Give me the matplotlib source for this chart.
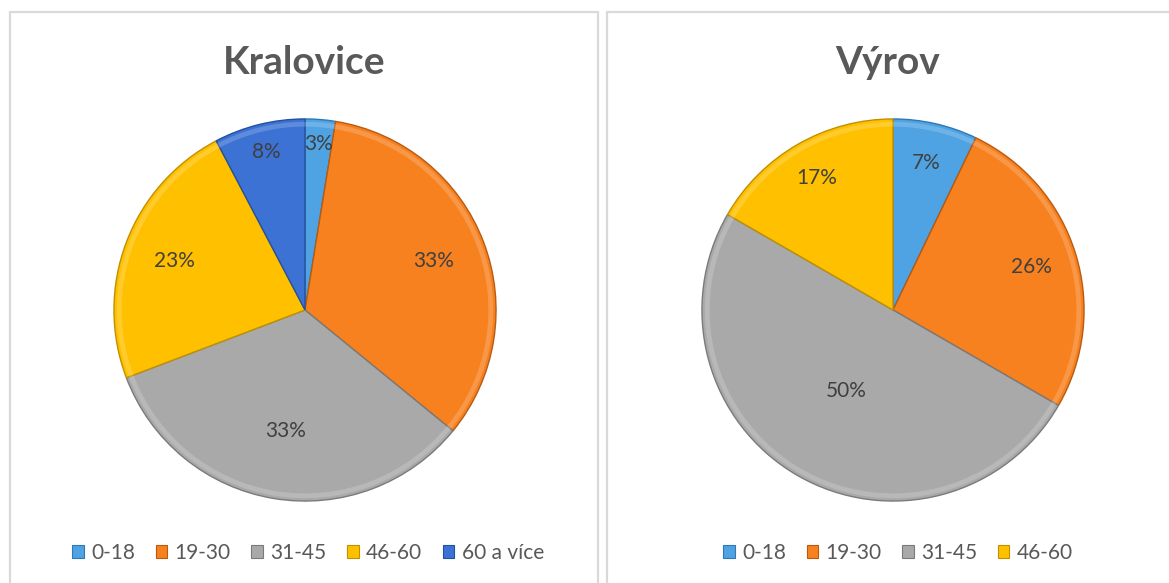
import matplotlib.pyplot as plt
import numpy as np
from matplotlib.patches import Patch, Rectangle

plt.rcParams["font.family"] = ["Lato", "DejaVu Sans"]

# counts per age group (percentages are derived from these)
groups = ["0-18", "19-30", "31-45", "46-60", "60 a více"]
kralovice = [1, 13, 13, 9, 3]
vyrov = [3, 11, 21, 7]
titles = ["Kralovice", "Výrov"]

colors = ["#4FA3E3", "#F7811F", "#A9A9A9", "#FFC000", "#3B72D4"]
edge_colors = ["#2F78B5", "#B85A10", "#7A7A7A", "#C09000", "#24509E"]
label_radius = [[0.87, 0.72, 0.64, 0.73, 0.85], [0.79, 0.76, 0.49, 0.80]]

W, H = 1169, 583
fig = plt.figure(figsize=(W / 100, H / 100), dpi=100)
fig.patch.set_facecolor("white")

# chart panel borders
for x0, x1 in [(10, 598), (607, 1240)]:
    fig.patches.append(Rectangle((x0 / W, -0.05), (x1 - x0) / W, (H - 12) / H + 0.05,
                                 transform=fig.transFigure, fill=False,
                                 edgecolor="#D9D9D9", linewidth=1.6))

R = 192
# (pie centre x, title centre x, legend centre x, values) in pixels
panels = [(305, 304, 308, kralovice), (893, 888, 898, vyrov)]
for i, (cx, tx, lx, vals) in enumerate(panels):
    cy = 310
    ax = fig.add_axes([(cx - R) / W, 1 - (cy + R) / H, 2 * R / W, 2 * R / H])
    wedges, _ = ax.pie(vals, colors=colors[:len(vals)], startangle=90, counterclock=False,
                       radius=1, wedgeprops=dict(linewidth=1.0))
    for w, ec in zip(wedges, edge_colors):
        w.set_edgecolor(ec)
    # light bevel along the rim
    ax.pie(vals, colors=["white"] * len(vals), startangle=90, counterclock=False, radius=0.985,
           wedgeprops=dict(width=0.025, linewidth=0, alpha=0.18))
    ax.set_xlim(-1.005, 1.005)
    ax.set_ylim(-1.005, 1.005)
    ax.set_aspect("equal")
    ax.axis("off")
    total = sum(vals)
    for w, v, r in zip(wedges, vals, label_radius[i]):
        mid = np.deg2rad((w.theta1 + w.theta2) / 2)
        ax.text(r * np.cos(mid), r * np.sin(mid), f"{round(100 * v / total)}%",
                ha="center", va="center", fontsize=15, color="#404040")

    fig.text(tx / W, 1 - 62 / H, titles[i], ha="center", va="center",
             fontsize=28, fontweight="bold", color="#595959")

    handles = [Patch(facecolor=c, edgecolor=e, linewidth=0.8)
               for c, e in zip(colors[:len(vals)], edge_colors)]
    fig.legend(handles, groups[:len(vals)], loc="center", bbox_to_anchor=(lx / W, 1 - 553 / H),
               ncol=len(vals), frameon=False, fontsize=15, handlelength=0.55, handleheight=0.55,
               handletextpad=0.35, columnspacing=1.0, labelcolor="#595959")

fig.savefig("out.png", dpi=100, facecolor="white")
